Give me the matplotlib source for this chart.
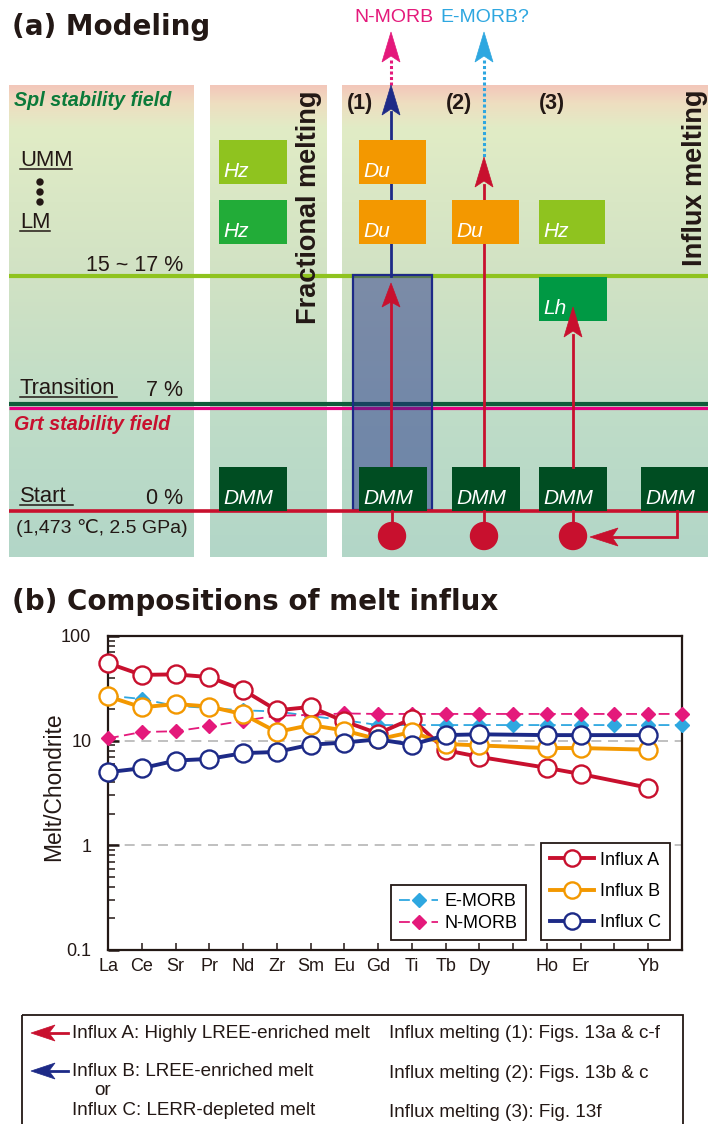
import numpy as np
import matplotlib
matplotlib.use("Agg")
import matplotlib.pyplot as plt
from matplotlib.patches import Rectangle, Polygon, Circle
from matplotlib.ticker import FixedLocator, NullFormatter

plt.rcParams['font.family'] = ['Liberation Sans', 'DejaVu Sans']

W, H = 708, 1124

# ---------------------------------------------------------------- data (b)
tick_labels = ['La', 'Ce', 'Sr', 'Pr', 'Nd', 'Zr', 'Sm', 'Eu', 'Gd', 'Ti',
               'Tb', 'Dy', '', 'Ho', 'Er', '', 'Yb', '']
influx_pos = [0, 1, 2, 3, 4, 5, 6, 7, 8, 9, 10, 11, 13, 14, 16]
influx_a = [55, 42.5, 43, 40.5, 30.5, 19.5, 21, 15.3, 11.7, 16.2, 8.1, 7.0, 5.5, 4.8, 3.55]
influx_b = [26.5, 20.8, 22.4, 21.2, 17.9, 12.1, 14.1, 12.5, 10.3, 12.1, 9.3, 9.0, 8.5, 8.5, 8.2]
influx_c = [5.0, 5.45, 6.45, 6.7, 7.6, 7.8, 9.15, 9.6, 10.3, 9.15, 11.3, 11.5, 11.3, 11.3, 11.3]
morb_pos = list(range(18))
e_morb = [27, 25, 21.5, 20.5, 19.5, 19.0, 17.2, 15.7, 14.1, 14.1, 14.1, 14.1, 14.1,
          14.1, 14.1, 14.1, 14.1, 14.1]
n_morb = [10.5, 12.1, 12.3, 13.7, 15.5, 17.3, 17.6, 18.2, 18.0, 18.0, 18.0, 18.0, 18.0,
          18.0, 18.0, 18.0, 18.0, 18.0]

# ---------------------------------------------------------------- colours
RED = '#c8102e'
NAVY = '#1d2a87'
ORANGE = '#f39800'
LIME = '#8fc31f'
GREEN = '#22ac38'
LH_GREEN = '#009944'
DMM_GREEN = '#004d22'
DARK_LINE = '#0f5c3a'
MAGENTA = '#e4007f'
PINK = '#e4197b'
SKY = '#2ea7e0'
TXT = '#231815'

fig = plt.figure(figsize=(W / 100, H / 100), dpi=100)
ax = fig.add_axes([0, 0, 1, 1])
ax.set_xlim(0, W)
ax.set_ylim(H, 0)
ax.axis('off')


def head(x, y, dx, dy, color, length=28, half=9, notch=6, z=6):
    """Swept arrowhead with its tip at (x, y) pointing along (dx, dy)."""
    d = np.array([dx, dy], float)
    d /= np.hypot(*d)
    p = np.array([-d[1], d[0]])
    tip = np.array([x, y], float)
    back = tip - length * d
    pts = [tip, back + half * p, tip - (length - notch) * d, back - half * p]
    ax.add_patch(Polygon(pts, closed=True, fc=color, ec=color, lw=0.5, zorder=z))


# ---------------------------------------------------------------- (a) backgrounds
stops_y = [85, 103, 128, 276, 404, 557]
stops_c = np.array([(243, 199, 186), (238, 222, 192), (225, 236, 198),
                    (209, 226, 196), (192, 221, 199), (178, 214, 200)]) / 255.0
rows = np.arange(85, 558)
grad = np.stack([np.interp(rows, stops_y, stops_c[:, k]) for k in range(3)], axis=1)
grad = grad[:, None, :]
for x0, x1 in [(9, 194), (210, 327), (342, 708)]:
    ax.imshow(grad, extent=(x0, x1, 557, 85), origin='upper', aspect='auto',
              interpolation='bilinear', zorder=0)
ax.set_xlim(0, W)
ax.set_ylim(H, 0)

# horizontal level lines
ax.plot([9, 708], [276, 276], color=LIME, lw=3, zorder=1, solid_capstyle='butt')
ax.plot([9, 708], [403.5, 403.5], color=DARK_LINE, lw=3, zorder=1, solid_capstyle='butt')
ax.plot([9, 708], [407.5, 407.5], color=MAGENTA, lw=2.3, zorder=1, solid_capstyle='butt')
ax.plot([9, 708], [511, 511], color=RED, lw=2.6, zorder=4, solid_capstyle='butt')

# translucent melting column (1)
ax.add_patch(Rectangle((353, 275), 79, 235, fc=NAVY, alpha=0.47, ec='none', zorder=2))
ax.add_patch(Rectangle((353, 275), 79, 235, fc='none', ec=NAVY, lw=1.6, zorder=2.1))

# titles
ax.text(12, 35, '(a) Modeling', fontsize=20, fontweight='bold',
        family='DejaVu Sans', color=TXT, va='baseline', ha='left')
ax.text(12, 610, '(b) Compositions of melt influx', fontsize=20, fontweight='bold',
        family='DejaVu Sans', color=TXT, va='baseline', ha='left')

# left column labels
ax.text(14, 100, 'Spl stability field', fontsize=14.2, fontweight='bold', style='italic',
        color='#0b7a3a', va='center', ha='left', zorder=5)
ax.text(14, 424, 'Grt stability field', fontsize=14.2, fontweight='bold', style='italic',
        color=RED, va='center', ha='left', zorder=5)


def underlined(x, y, s, x_end):
    ax.text(x, y, s, fontsize=15.8, color=TXT, va='baseline', ha='left', zorder=5)
    ax.plot([x, x_end], [y + 3, y + 3], color=TXT, lw=1.1, zorder=5)


underlined(20, 166, 'UMM', 72)
underlined(20, 228, 'LM', 50)
underlined(20, 394, 'Transition', 117)
underlined(20, 502, 'Start', 73)
for yy in (182, 192, 202):
    ax.add_patch(Circle((40, yy), 3.0, color=TXT, zorder=5))
ax.text(183, 271, '15 ~ 17 %', fontsize=15.5, color=TXT, va='baseline', ha='right', zorder=5)
ax.text(183, 396, '7 %', fontsize=15.5, color=TXT, va='baseline', ha='right', zorder=5)
ax.text(183, 504, '0 %', fontsize=15.5, color=TXT, va='baseline', ha='right', zorder=5)
ax.text(16, 528, '(1,473 \u2103, 2.5 GPa)', fontsize=14, color=TXT, va='center', ha='left',
        zorder=5)


def box(x0, x1, y0, y1, color, label):
    ax.add_patch(Rectangle((x0, y0), x1 - x0, y1 - y0, fc=color, ec='none', zorder=4))
    ax.text(x0 + 4, y1 - 7, label, fontsize=15, style='italic', color='white',
            va='baseline', ha='left', zorder=5)


# fractional melting column
box(219, 287, 140, 184, LIME, 'Hz')
box(219, 287, 200, 244, GREEN, 'Hz')
box(219, 287, 467, 511, DMM_GREEN, 'DMM')
ax.text(309, 90, 'Fractional melting', rotation=90, fontsize=19.5, fontweight='bold',
        color=TXT, ha='center', va='top', zorder=5)

# influx melting columns
ax.text(695, 90, 'Influx melting', rotation=90, fontsize=19.5, fontweight='bold',
        color=TXT, ha='center', va='top', zorder=5)
for xt, s in [(360, '(1)'), (459, '(2)'), (552, '(3)')]:
    ax.text(xt, 104, s, fontsize=15.5, fontweight='bold', color=TXT, ha='center',
            va='center', zorder=5)

# column (1)
ax.plot([391, 391], [112, 276], color=NAVY, lw=2, zorder=3)
head(391, 85, 0, -1, NAVY, length=30, half=9, notch=6)
ax.plot([391, 391], [60, 86], color=PINK, lw=2.2, ls=(0, (1, 0.8)), zorder=3)
head(391, 32, 0, -1, PINK, length=30, half=9, notch=6)
ax.text(394, 17, 'N-MORB', fontsize=14, color=PINK, ha='center', va='center')
box(359, 426, 140, 184, ORANGE, 'Du')
box(359, 426, 200, 244, ORANGE, 'Du')
ax.plot([391, 391], [300, 467], color=RED, lw=2, zorder=3)
head(391, 283, 0, -1, RED, length=24, half=9, notch=5)
box(359, 427, 467, 511, DMM_GREEN, 'DMM')

# column (2)
ax.plot([484, 484], [185, 467], color=RED, lw=2, zorder=3)
head(484, 157, 0, -1, RED, length=30, half=9, notch=6)
ax.plot([484, 484], [60, 158], color=SKY, lw=2.2, ls=(0, (1, 0.8)), zorder=3)
head(484, 32, 0, -1, SKY, length=30, half=9, notch=6)
ax.text(485, 17, 'E-MORB?', fontsize=14, color=SKY, ha='center', va='center')
box(452, 519, 200, 244, ORANGE, 'Du')
box(452, 520, 467, 511, DMM_GREEN, 'DMM')

# column (3)
box(539, 605, 200, 244, LIME, 'Hz')
box(539, 607, 277, 321, LH_GREEN, 'Lh')
ax.plot([573, 573], [335, 467], color=RED, lw=2, zorder=6)
head(573, 307, 0, -1, RED, length=30, half=9, notch=6)
box(539, 607, 467, 511, DMM_GREEN, 'DMM')

# recycled DMM feeding column (3)
box(641, 708, 467, 511, DMM_GREEN, 'DMM')
ax.plot([677, 677, 612], [511, 537, 537], color=RED, lw=2, zorder=4,
        solid_joinstyle='miter')
head(590, 537, -1, 0, RED, length=28, half=9, notch=6)

# melt sources
for xc in (392, 484, 573):
    ax.plot([xc, xc], [511, 524], color=RED, lw=2, zorder=4)
    ax.add_patch(Circle((xc, 536), 13.5, color=RED, zorder=5))

# ---------------------------------------------------------------- bottom key
ax.add_patch(Rectangle((22, 1015), 661, 130, fc='none', ec=TXT, lw=1.3, zorder=3))
ax.plot([50, 68], [1033, 1033], color=RED, lw=2, zorder=4)
head(31, 1033, -1, 0, RED, length=24, half=8, notch=6)
ax.plot([50, 68], [1071, 1071], color=NAVY, lw=2, zorder=4)
head(31, 1071, -1, 0, NAVY, length=24, half=8, notch=6)
key_fs = 13.6
ax.text(72, 1038, 'Influx A: Highly LREE-enriched melt', fontsize=key_fs, color=TXT,
        va='baseline')
ax.text(72, 1076, 'Influx B: LREE-enriched melt', fontsize=key_fs, color=TXT, va='baseline')
ax.text(94, 1095, 'or', fontsize=key_fs, color=TXT, va='baseline')
ax.text(72, 1115, 'Influx C: LERR-depleted melt', fontsize=key_fs, color=TXT, va='baseline')
ax.text(389, 1038, 'Influx melting (1): Figs. 13a & c-f', fontsize=key_fs, color=TXT,
        va='baseline')
ax.text(389, 1078, 'Influx melting (2): Figs. 13b & c', fontsize=key_fs, color=TXT,
        va='baseline')
ax.text(389, 1117, 'Influx melting (3): Fig. 13f', fontsize=key_fs, color=TXT,
        va='baseline')

# ---------------------------------------------------------------- (b) spider diagram
axb = fig.add_axes([108 / W, 1 - 950 / H, 574 / W, 314 / H])
axb.set_yscale('log')
axb.set_ylim(0.1, 100)
axb.set_xlim(0, 17)
axb.set_facecolor('none')

for yv in (1, 10):
    axb.axhline(yv, color='#b5b5b5', lw=1.2, ls=(0, (6, 4)), zorder=1)

le, = axb.plot(morb_pos, e_morb, color=SKY, lw=1.3, ls=(0, (6, 3)), marker='D', ms=7,
               mfc=SKY, mec=SKY, clip_on=False, zorder=3, label='E-MORB')
ln, = axb.plot(morb_pos, n_morb, color=PINK, lw=1.3, ls=(0, (6, 3)), marker='D', ms=7,
               mfc=PINK, mec=PINK, clip_on=False, zorder=3, label='N-MORB')
series = [(influx_a, RED, 'Influx A'), (influx_b, ORANGE, 'Influx B'),
          (influx_c, NAVY, 'Influx C')]
infl_handles = []
for vals, col, lab in series:
    h, = axb.plot(influx_pos, vals, color=col, lw=2.8, marker='o', ms=13, mfc='white',
                  mec=col, mew=1.7, clip_on=False, zorder=4, label=lab)
    infl_handles.append(h)

for sp in axb.spines.values():
    sp.set_linewidth(1.6)
    sp.set_color(TXT)

axb.xaxis.set_major_locator(FixedLocator(range(18)))
axb.set_xticklabels(tick_labels)
axb.tick_params(axis='x', direction='in', length=5, width=1.1, labelsize=13, pad=6,
                colors=TXT)
axb.set_yticks([0.1, 1, 10, 100])
axb.set_yticklabels(['0.1', '1', '10', '100'])
axb.yaxis.set_minor_locator(FixedLocator(
    [m * 10.0 ** e for e in (-1, 0, 1) for m in range(2, 10)]))
axb.yaxis.set_minor_formatter(NullFormatter())
axb.tick_params(axis='y', which='major', direction='in', length=8, width=1.8,
                labelsize=13, pad=12, colors=TXT)
axb.tick_params(axis='y', which='minor', direction='in', length=5, width=1.1, colors=TXT)
axb.set_ylabel('Melt/Chondrite', fontsize=16.5, color=TXT)
axb.yaxis.set_label_coords(-0.075, 0.52)

leg2 = axb.legend(handles=infl_handles, loc='lower right', bbox_to_anchor=(0.979, 0.032),
                  borderaxespad=0, fontsize=13, frameon=True, fancybox=False,
                  edgecolor=TXT, framealpha=1, handlelength=2.4, handletextpad=0.35,
                  labelspacing=0.78, borderpad=0.5, markerscale=0.9)
leg2.get_frame().set_linewidth(1.3)
axb.add_artist(leg2)
leg1 = axb.legend(handles=[le, ln], loc='lower right', bbox_to_anchor=(0.728, 0.032),
                  borderaxespad=0, fontsize=13, frameon=True, fancybox=False,
                  edgecolor=TXT, framealpha=1, handlelength=2.2, handletextpad=0.35,
                  labelspacing=0.25, borderpad=0.45)
leg1.get_frame().set_linewidth(1.3)

fig.savefig('out.png', dpi=100)
